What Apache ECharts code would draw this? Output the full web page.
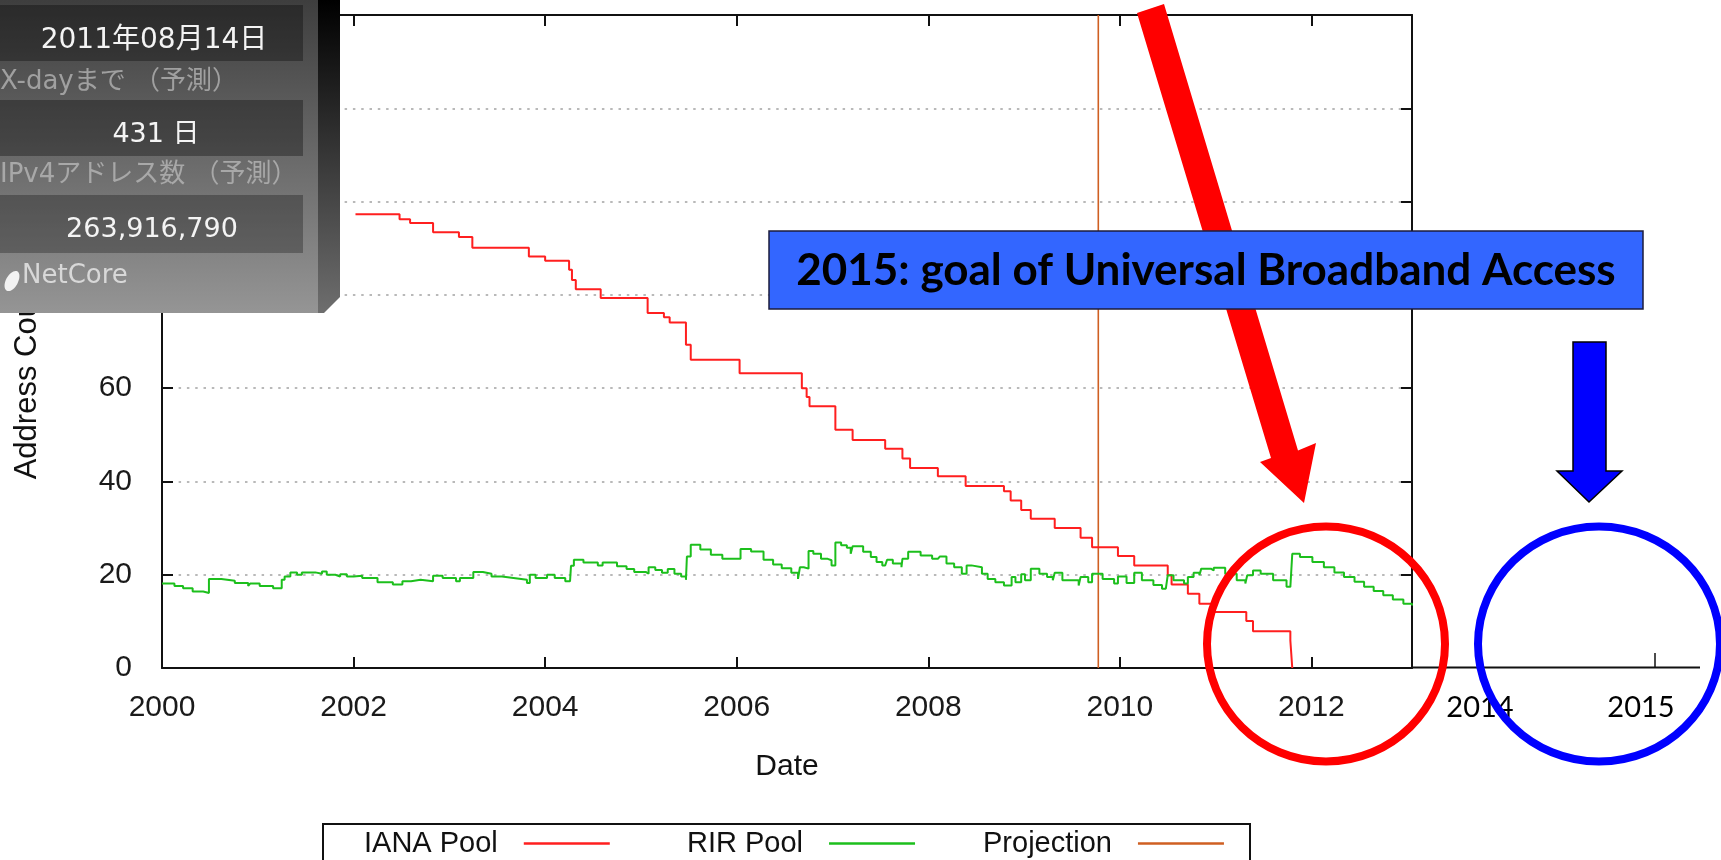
<!DOCTYPE html>
<html>
<head>
<meta charset="utf-8">
<script src="https://cdn.jsdelivr.net/npm/echarts@6/dist/echarts.min.js"></script>
<style>
html,body{margin:0;padding:0;background:#fff;}
#c{width:1721px;height:860px;}
</style>
</head>
<body>
<div id="c"></div>
<script>
// ---------------- data ----------------
const ianaYears = [2002.02, 2002.48, 2002.59, 2002.83, 2003.10, 2003.24, 2003.83, 2004.00, 2004.25, 2004.28,
  2004.32, 2004.58, 2005.07, 2005.24, 2005.30, 2005.47, 2005.52, 2006.03, 2006.68, 2006.73,
  2006.76, 2007.03, 2007.21, 2007.55, 2007.73, 2007.81, 2008.10, 2008.39, 2008.79, 2008.86,
  2008.97, 2009.07, 2009.32, 2009.59, 2009.71, 2009.98, 2010.15, 2010.50, 2010.54, 2010.71,
  2010.83, 2010.96, 2011.32, 2011.39, 2011.78, 2011.80];
const ianaValues = [97.3, 96.2, 95.4, 93.4, 92.4, 90.1, 88.2, 87.3, 85.4, 83.2,
  81.2, 79.3, 76.1, 75.2, 74.1, 69.3, 66.1, 63.2, 60.0, 58.1,
  56.1, 51.1, 48.9, 47.0, 44.9, 42.9, 41.1, 39.0, 37.9, 35.9,
  33.9, 32.0, 30.0, 27.9, 25.9, 24.0, 22.0, 19.9, 17.9, 15.9,
  13.8, 12.0, 10.1, 7.9, 5.9, 0];

const rirYears = [2000.00, 2000.13, 2000.22, 2000.32, 2000.43, 2000.49, 2000.62, 2000.76, 2000.90, 2000.92,
  2001.02, 2001.16, 2001.25, 2001.28, 2001.34, 2001.41, 2001.46, 2001.60, 2001.67, 2001.72,
  2001.81, 2001.86, 2001.93, 2002.00, 2002.09, 2002.25, 2002.41, 2002.51, 2002.60, 2002.70,
  2002.83, 2002.93, 2003.07, 2003.11, 2003.25, 2003.35, 2003.44, 2003.55, 2003.67, 2003.81,
  2003.84, 2003.90, 2004.02, 2004.10, 2004.21, 2004.26, 2004.27, 2004.30, 2004.40, 2004.55,
  2004.60, 2004.75, 2004.85, 2004.93, 2005.05, 2005.08, 2005.15, 2005.22, 2005.28, 2005.35,
  2005.42, 2005.47, 2005.48, 2005.52, 2005.62, 2005.73, 2005.85, 2006.04, 2006.15, 2006.28,
  2006.38, 2006.47, 2006.57, 2006.64, 2006.66, 2006.70, 2006.75, 2006.80, 2006.88, 2006.95,
  2006.99, 2007.03, 2007.09, 2007.15, 2007.19, 2007.21, 2007.32, 2007.40, 2007.46, 2007.52,
  2007.55, 2007.57, 2007.63, 2007.72, 2007.73, 2007.79, 2007.92, 2008.04, 2008.10, 2008.12,
  2008.19, 2008.27, 2008.35, 2008.40, 2008.45, 2008.56, 2008.62, 2008.70, 2008.79, 2008.87,
  2008.91, 2008.97, 2009.01, 2009.07, 2009.16, 2009.24, 2009.30, 2009.32, 2009.40, 2009.57,
  2009.59, 2009.67, 2009.71, 2009.82, 2009.94, 2009.98, 2010.07, 2010.15, 2010.23, 2010.35,
  2010.44, 2010.48, 2010.50, 2010.56, 2010.67, 2010.71, 2010.77, 2010.83, 2010.85, 2010.95,
  2010.98, 2011.10, 2011.22, 2011.31, 2011.33, 2011.39, 2011.47, 2011.60, 2011.74, 2011.78,
  2011.80, 2011.88, 2012.01, 2012.13, 2012.24, 2012.34, 2012.45, 2012.55, 2012.65, 2012.75,
  2012.85, 2012.96, 2013.05];
const rirValues = [18.1, 17.6, 17.1, 16.4, 16.1, 19.1, 18.7, 18.2, 17.6, 18.1,
  17.6, 17.1, 18.9, 19.6, 20.5, 20.0, 20.5, 20.2, 20.7, 20.0,
  19.6, 20.1, 19.6, 19.8, 19.3, 18.4, 17.9, 18.6, 18.9, 18.6,
  19.8, 19.3, 18.6, 19.3, 20.6, 20.2, 19.6, 19.3, 18.9, 18.2,
  20.0, 19.3, 20.0, 19.3, 18.6, 18.2, 21.9, 23.2, 22.6, 22.0,
  22.6, 21.8, 21.2, 20.6, 20.2, 21.6, 21.0, 20.4, 21.2, 20.2,
  19.6, 18.9, 23.9, 26.4, 25.4, 24.3, 23.4, 25.5, 25.0, 23.2,
  22.2, 21.4, 20.4, 19.1, 21.6, 21.3, 25.1, 24.5, 23.4, 23.1,
  22.0, 26.9, 26.3, 25.8, 24.5, 26.1, 24.9, 23.8, 22.7, 22.0,
  21.6, 23.2, 22.4, 21.6, 23.4, 24.9, 24.1, 23.4, 23.1, 23.9,
  22.4, 21.6, 20.2, 22.0, 21.6, 20.2, 19.1, 18.4, 17.7, 19.5,
  18.4, 20.1, 18.8, 21.3, 20.2, 19.5, 18.8, 20.4, 18.8, 17.7,
  19.5, 18.4, 20.2, 19.1, 18.1, 19.6, 18.2, 20.4, 18.8, 17.8,
  17.0, 16.6, 19.9, 18.8, 18.1, 19.5, 20.4, 19.9, 21.3, 20.9,
  21.5, 20.2, 18.8, 18.1, 19.9, 20.9, 20.2, 18.8, 17.4, 17.0,
  24.5, 23.8, 22.7, 21.6, 20.5, 19.5, 18.5, 17.4, 16.5, 15.6,
  14.7, 13.8, 13.4];

const projectionYear = 2009.775;
const seriesNames = ['IANA Pool', 'RIR Pool', 'Projection'];
const extraYearLabels = ['2014', '2015'];
const calloutText = '2015: goal of Universal Broadband Access';
const widgetTexts = ['2011年08月14日', 'X-dayまで （予測）', '431 日', 'IPv4アドレス数 （予測）', '263,916,790', 'NetCore'];

// ---------------- chart ----------------
const zip = (xs, ys) => xs.map((x, i) => [x, ys[i]]);
const FONT = "'Liberation Sans', Arial, sans-serif";
const JP = "'DejaVu Sans', 'Noto Sans CJK JP', sans-serif";
const AX = '#111';

const chart = echarts.init(document.getElementById('c'), null, {renderer: 'canvas'});

const legendCommon = {
  orient: 'horizontal', align: 'right', icon: 'rect', itemWidth: 86, itemHeight: 2.5,
  padding: 0, selectedMode: false, top: 829,
  textStyle: {fontFamily: FONT, fontSize: 29, color: '#111', padding: [0, 21, 0, 0]}
};

const option = {
  animation: false,
  backgroundColor: '#fff',
  grid: {left: 162, right: 309, top: 14, bottom: 192, containLabel: false},
  legend: [
    Object.assign({data: [seriesNames[0]], left: 364}, legendCommon),
    Object.assign({data: [seriesNames[1]], left: 687}, legendCommon),
    Object.assign({data: [seriesNames[2]], left: 983}, legendCommon)
  ],
  xAxis: [
    {
      type: 'value', min: 2000, max: 2013.05, interval: 2, position: 'bottom',
      name: 'Date', nameLocation: 'middle', nameGap: 84,
      nameTextStyle: {fontFamily: FONT, fontSize: 30, color: '#111'},
      axisLine: {onZero: false, lineStyle: {color: AX, width: 2}},
      axisTick: {inside: true, length: 11, lineStyle: {color: AX, width: 2}},
      axisLabel: {margin: 25, fontFamily: FONT, fontSize: 30, color: '#1a1a1a', showMaxLabel: false,
        formatter: v => (Math.abs(v - Math.round(v)) < 1e-6 ? String(Math.round(v)) : '')},
      splitLine: {show: false}
    },
    {
      type: 'value', min: 2000, max: 2013.05, interval: 2, position: 'top',
      axisLine: {onZero: false, lineStyle: {color: AX, width: 2}},
      axisTick: {inside: true, length: 11, lineStyle: {color: AX, width: 2}},
      axisLabel: {show: false}, splitLine: {show: false}
    }
  ],
  yAxis: [
    {
      type: 'value', min: 0, max: 140, interval: 20, position: 'left',
      name: 'Address Count (/8s)', nameLocation: 'middle', nameGap: 119,
      nameTextStyle: {fontFamily: FONT, fontSize: 31, color: '#111'},
      axisLine: {onZero: false, lineStyle: {color: AX, width: 2}},
      axisTick: {inside: true, length: 11, lineStyle: {color: AX, width: 2}},
      axisLabel: {margin: 30, fontFamily: FONT, fontSize: 30, color: '#1a1a1a'},
      splitLine: {show: true, lineStyle: {color: '#a3a3a3', width: 1.6, type: [2.5, 5.8]}}
    },
    {
      type: 'value', min: 0, max: 140, interval: 20, position: 'right',
      axisLine: {onZero: false, lineStyle: {color: AX, width: 2}},
      axisTick: {inside: true, length: 11, lineStyle: {color: AX, width: 2}},
      axisLabel: {show: false}, splitLine: {show: false}
    }
  ],
  series: [
    {name: seriesNames[0], type: 'line', step: 'end', symbol: 'none', color: '#ff1f1f',
      lineStyle: {color: '#ff1f1f', width: 2}, data: zip(ianaYears, ianaValues), z: 3},
    {name: seriesNames[1], type: 'line', step: 'end', symbol: 'none', color: '#1cbf1c',
      lineStyle: {color: '#1cbf1c', width: 2}, data: zip(rirYears, rirValues), z: 4},
    {name: seriesNames[2], type: 'line', symbol: 'none', color: '#cf5f22',
      lineStyle: {color: '#cf5f22', width: 1.6}, data: [[projectionYear, 0], [projectionYear, 140]], z: 2}
  ],
  graphic: [
    // legend frame
    {type: 'rect', z: 50, shape: {x: 323, y: 824, width: 927, height: 60},
      style: {fill: 'none', stroke: '#111', lineWidth: 2}},
    // slide annotation: extended axis and years
    {type: 'line', z: 60, shape: {x1: 1412, y1: 667.5, x2: 1700, y2: 667.5}, style: {stroke: '#111', lineWidth: 2}},
    {type: 'line', z: 60, shape: {x1: 1655, y1: 653, x2: 1655, y2: 667.5}, style: {stroke: '#111', lineWidth: 1.5}},
    {type: 'text', z: 60, x: 1480, y: 708, style: {text: extraYearLabels[0], fill: '#000', font: "29px Lato, 'Open Sans', sans-serif", align: 'center', verticalAlign: 'middle'}},
    {type: 'text', z: 60, x: 1641, y: 708, style: {text: extraYearLabels[1], fill: '#000', font: "29px Lato, 'Open Sans', sans-serif", align: 'center', verticalAlign: 'middle'}},
    // widget panel
    {type: 'rect', z: 100, shape: {x: 0, y: 0, width: 318, height: 313},
      style: {fill: new echarts.graphic.LinearGradient(0, 0, 0, 1, [
        {offset: 0, color: '#3e3e3e'}, {offset: 0.3, color: '#585858'},
        {offset: 0.6, color: '#727272'}, {offset: 1, color: '#959595'}])}},
    {type: 'polygon', z: 100, shape: {points: [[318, 0], [340, 0], [340, 297], [324, 313], [318, 313]]},
      style: {fill: new echarts.graphic.LinearGradient(0, 0, 0, 1, [
        {offset: 0, color: '#000'}, {offset: 1, color: '#6e6e6e'}])}},
    {type: 'rect', z: 101, shape: {x: 0, y: 5, width: 303, height: 56}, style: {fill: 'rgba(0,0,0,0.32)'}},
    {type: 'rect', z: 101, shape: {x: 0, y: 100, width: 303, height: 56}, style: {fill: 'rgba(0,0,0,0.32)'}},
    {type: 'rect', z: 101, shape: {x: 0, y: 195, width: 303, height: 58}, style: {fill: 'rgba(0,0,0,0.28)'}},
    {type: 'text', z: 102, x: 154, y: 41, style: {text: widgetTexts[0], fill: '#f4f4f4', font: '28px ' + JP, align: 'center', verticalAlign: 'middle'}},
    {type: 'text', z: 102, x: 0, y: 82, style: {text: widgetTexts[1], fill: '#a0a0a0', font: '26px ' + JP, align: 'left', verticalAlign: 'middle'}},
    {type: 'text', z: 102, x: 156, y: 135, style: {text: widgetTexts[2], fill: '#f4f4f4', font: '27px ' + JP, align: 'center', verticalAlign: 'middle'}},
    {type: 'text', z: 102, x: 0, y: 175, style: {text: widgetTexts[3], fill: '#a8a8a8', font: '26px ' + JP, align: 'left', verticalAlign: 'middle'}},
    {type: 'text', z: 102, x: 152, y: 230, style: {text: widgetTexts[4], fill: '#f4f4f4', font: '27px ' + JP, align: 'center', verticalAlign: 'middle'}},
    {type: 'ellipse', z: 102, shape: {cx: 12, cy: 281, rx: 6, ry: 11}, rotation: -0.5, originX: 12, originY: 281,
      style: {fill: '#f2f2f2'}},
    {type: 'text', z: 102, x: 22, y: 276, style: {text: widgetTexts[5], fill: '#d8d8d8', font: "26px 'DejaVu Sans', sans-serif", align: 'left', verticalAlign: 'middle'}},
    // red arrow
    {type: 'polygon', z: 110, shape: {points: [[1137, 13], [1164, 4], [1298, 450.5], [1316, 443], [1304, 503], [1260, 462], [1271, 458]]},
      style: {fill: '#ff0000'}},
    // blue callout box
    {type: 'rect', z: 120, shape: {x: 769, y: 231, width: 874, height: 78},
      style: {fill: '#3366ff', stroke: '#1c1c3c', lineWidth: 1.5}},
    {type: 'text', z: 121, x: 1206, y: 271, style: {text: calloutText, fill: '#000', font: "bold 44px Lato, 'Open Sans', sans-serif", align: 'center', verticalAlign: 'middle'}},
    // ellipses
    {type: 'ellipse', z: 130, shape: {cx: 1326, cy: 644, rx: 119, ry: 117.5},
      style: {fill: 'none', stroke: '#ff0000', lineWidth: 8}},
    {type: 'ellipse', z: 130, shape: {cx: 1599, cy: 644, rx: 121, ry: 117.5},
      style: {fill: 'none', stroke: '#0000ff', lineWidth: 8}},
    // blue arrow
    {type: 'polygon', z: 130, shape: {points: [[1573, 342], [1606, 342], [1606, 471], [1622, 471], [1589, 502], [1557, 471], [1573, 471]]},
      style: {fill: '#0000ff', stroke: '#000', lineWidth: 1.5}}
  ]
};
chart.setOption(option);
</script>
</body>
</html>
